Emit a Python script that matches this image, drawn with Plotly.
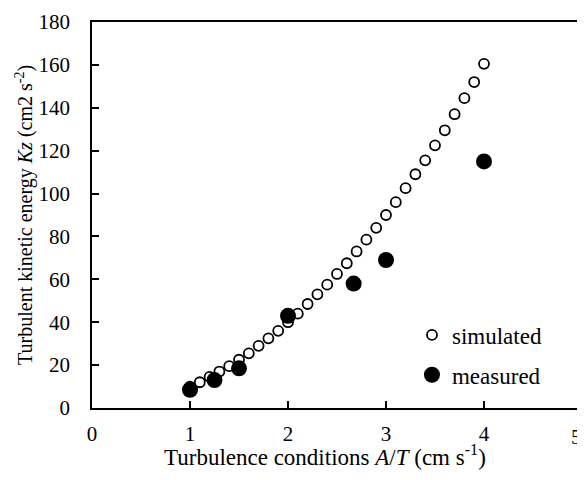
import plotly.graph_objects as go

# Simulated series (open circles)
sim_x = [1.0, 1.1, 1.2, 1.3, 1.4, 1.5, 1.6, 1.7, 1.8, 1.9,
         2.0, 2.1, 2.2, 2.3, 2.4, 2.5, 2.6, 2.7, 2.8, 2.9,
         3.0, 3.1, 3.2, 3.3, 3.4, 3.5, 3.6, 3.7, 3.8, 3.9, 4.0]
sim_y = [10, 12, 14.5, 17, 19.5, 22.5, 25.5, 29, 32.5, 36,
         40, 44, 48.5, 53, 57.5, 62.5, 67.5, 73, 78.5, 84,
         90, 96, 102.5, 109, 115.5, 122.5, 129.5, 137, 144.5, 152, 160.5]

# Measured series (filled circles)
meas_x = [1.0, 1.25, 1.5, 2.0, 2.67, 3.0, 4.0]
meas_y = [8.5, 13, 18.5, 43, 58, 69, 115]

x_ticks = [0, 1, 2, 3, 4, 5]
y_ticks = [0, 20, 40, 60, 80, 100, 120, 140, 160, 180]

x_title = "Turbulence conditions <i>A</i>/<i>T</i> (cm s<sup>-1</sup>)"
y_title = "Turbulent kinetic energy <i>Kz</i> (cm2 s<sup>-2</sup>)"

FONT = "Liberation Serif, Times New Roman, serif"

fig = go.Figure()
fig.add_trace(go.Scatter(
    x=sim_x, y=sim_y, mode="markers", name="simulated",
    legendgroup="a",
    marker=dict(symbol="circle", size=10, color="white",
                line=dict(color="black", width=1.8)),
))
fig.add_trace(go.Scatter(
    x=meas_x, y=meas_y, mode="markers", name="measured",
    legendgroup="b",
    marker=dict(symbol="circle", size=16, color="black",
                line=dict(color="black", width=0)),
))

axis_common = dict(
    showline=True, linecolor="black", linewidth=1.5, mirror=True,
    ticks="inside", ticklen=7, tickwidth=1.5, tickcolor="black",
    showgrid=False, zeroline=False, automargin=False,
    tickfont=dict(family=FONT, size=21, color="black"),
)

# the last x tick label sits on the page edge; plotly drops it, so draw it as text
edge_tick = x_ticks[-1]

# page body has an 8px default margin: size the figure to compensate
fig.update_layout(
    width=577, height=472,
    margin=dict(l=84, r=3, t=14, b=72),
    paper_bgcolor="white", plot_bgcolor="white",
    font=dict(family=FONT, color="black"),
    xaxis=dict(range=[0, 5], tickvals=x_ticks, ticklabelstandoff=6,
               **axis_common),
    yaxis=dict(range=[0, 180], tickvals=y_ticks, ticklabelstandoff=16,
               **axis_common),
    legend=dict(x=0.653, y=0.245, xanchor="left", yanchor="top",
                bgcolor="rgba(0,0,0,0)", tracegroupgap=7,
                font=dict(family=FONT, size=23, color="black"),
                itemwidth=30),
    showlegend=True,
    annotations=[
        dict(text=x_title, xref="paper", yref="paper", x=0.4755, y=-0.124,
             xanchor="center", yanchor="middle", showarrow=False,
             font=dict(family=FONT, size=23, color="black")),
        dict(text=y_title, xref="paper", yref="paper", x=-0.139, y=0.5,
             xanchor="center", yanchor="middle", showarrow=False, textangle=-90,
             font=dict(family=FONT, size=20, color="black")),
        dict(text=str(edge_tick), xref="paper", yref="paper", x=1.004, y=-0.075,
             xanchor="right", yanchor="middle", showarrow=False,
             font=dict(family=FONT, size=21, color="black")),
    ],
)

fig.write_html("out.html")
